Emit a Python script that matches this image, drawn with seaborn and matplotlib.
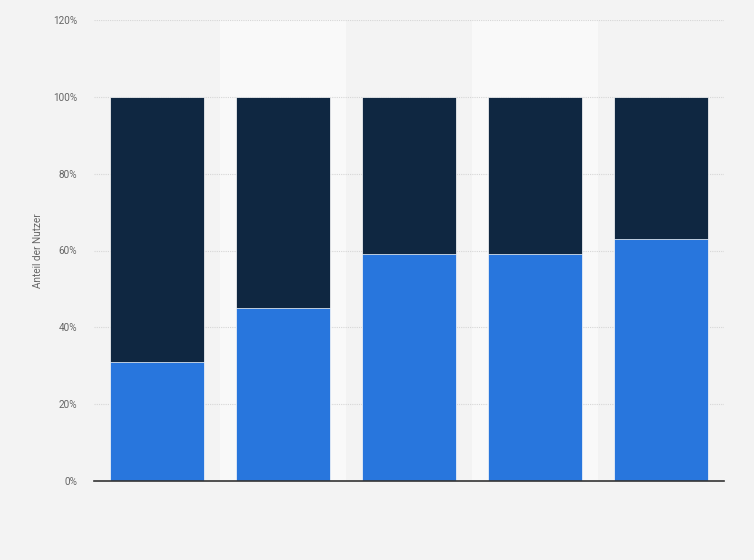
import matplotlib
matplotlib.use("Agg")
import matplotlib.pyplot as plt
import seaborn as sns
import pandas as pd
from matplotlib.ticker import FuncFormatter

categories = ["A", "B", "C", "D", "E"]
share_yes = [31, 45, 59, 59, 63]
share_total = [100, 100, 100, 100, 100]
y_ticks = [0, 20, 40, 60, 80, 100, 120]

sns.set_theme(style="white")
plt.rcParams['font.family'] = ['Roboto', 'DejaVu Sans']

df = pd.DataFrame({"cat": categories, "yes": share_yes, "total": share_total})

fig = plt.figure(figsize=(7.54, 5.6), dpi=100)
fig.patch.set_facecolor("#f3f3f3")
ax = fig.add_axes([94/754, 79/560, 630/754, 461/560])
ax.set_facecolor("#f3f3f3")

for i in range(len(categories)):
    if i % 2 == 1:
        ax.axvspan(i - 0.5, i + 0.5, color="#f9f9f9", zorder=0, lw=0)

for t in y_ticks[1:]:
    ax.axhline(t, color="#d6d6d6", lw=0.8, ls=(0, (1, 1)), zorder=0.5)

sns.barplot(data=df, x="cat", y="total", color="#0f2741", width=0.75,
            saturation=1, ax=ax, edgecolor="#ffffff", linewidth=0.5, zorder=2)
sns.barplot(data=df, x="cat", y="yes", color="#2876dd", width=0.75,
            saturation=1, ax=ax, edgecolor="#ffffff", linewidth=0.5, zorder=3)

ax.set_xlim(-0.5, len(categories) - 0.5)
ax.set_ylim(0, 120)
ax.set_yticks(y_ticks)
ax.yaxis.set_major_formatter(FuncFormatter(lambda v, p: f"{int(v)}%"))
ax.tick_params(axis="y", labelsize=7.2, colors="#666666", length=0, pad=12)
ax.set_xticks([])
ax.set_xlabel("")
ax.set_ylabel("Anteil der Nutzer", fontsize=7.2, color="#666666", labelpad=7)

for s in ["top", "right", "left"]:
    ax.spines[s].set_visible(False)
ax.spines["bottom"].set_color("#333333")
ax.spines["bottom"].set_linewidth(1.2)
ax.spines["bottom"].set_zorder(5)

fig.savefig("out.png", dpi=100, facecolor=fig.get_facecolor())
